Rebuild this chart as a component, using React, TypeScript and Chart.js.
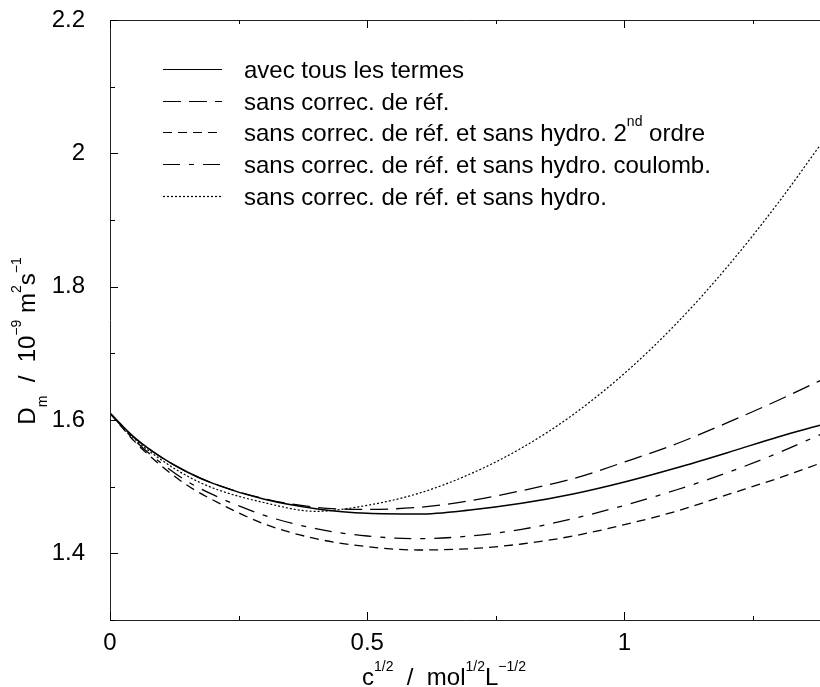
import { useEffect, useRef } from "react";
import { Chart, registerables } from "chart.js";

Chart.register(...registerables);

const FONT = '"Liberation Sans", Arial, Helvetica, sans-serif';

// x = c^{1/2}
const xValues = [0, 0.05, 0.1, 0.15, 0.2, 0.3, 0.4, 0.5, 0.6, 0.7, 0.8, 0.9, 1.0, 1.1, 1.2, 1.3, 1.38];
const avecTous = [1.61, 1.572, 1.544, 1.522, 1.505, 1.481, 1.467, 1.46, 1.459, 1.465, 1.475, 1.489, 1.507, 1.528, 1.551, 1.575, 1.592];
const sansRef = [1.61, 1.572, 1.544, 1.522, 1.505, 1.482, 1.469, 1.466, 1.469, 1.479, 1.494, 1.512, 1.537, 1.564, 1.596, 1.63, 1.659];
const sansRefSans2nd = [1.61, 1.566, 1.531, 1.502, 1.48, 1.444, 1.422, 1.41, 1.405, 1.407, 1.414, 1.426, 1.443, 1.463, 1.488, 1.513, 1.535];
const sansRefSansCoulomb = [1.61, 1.568, 1.535, 1.508, 1.488, 1.457, 1.437, 1.426, 1.422, 1.426, 1.436, 1.452, 1.472, 1.495, 1.521, 1.551, 1.578];
const sansRefSansHydro = [1.61, 1.57, 1.54, 1.516, 1.498, 1.476, 1.463, 1.472, 1.49, 1.519, 1.558, 1.608, 1.67, 1.744, 1.83, 1.927, 2.012];

const seriesLabels = [
  "avec tous les termes",
  "sans correc. de réf.",
  "sans correc. de réf. et sans hydro. 2^{nd} ordre",
  "sans correc. de réf. et sans hydro. coulomb.",
  "sans correc. de réf. et sans hydro.",
];

const xMajorTicks = [0, 0.5, 1];
const xTickLabels = ["0", "0.5", "1"];
const xMinorTicks = [0.25, 0.75, 1.25];
const yMajorTicks = [1.4, 1.6, 1.8, 2.0, 2.2];
const yTickLabels = ["1.4", "1.6", "1.8", "2", "2.2"];
const yMinorTicks = [1.3, 1.5, 1.7, 1.9, 2.1];

const xTitle = "c^{1/2}  /  mol^{1/2}L^{−1/2}";
const yTitle = "D_{m}  /  10^{−9} m^{2}s^{−1}";

type Seg = { t: string; kind: "normal" | "sup" | "sub" };

function parseRich(text: string): Seg[] {
  return text
    .split(/(\^\{[^}]*\}|_\{[^}]*\})/)
    .filter((p) => p.length > 0)
    .map((p) => {
      if (p.startsWith("^{")) return { t: p.slice(2, -1), kind: "sup" as const };
      if (p.startsWith("_{")) return { t: p.slice(2, -1), kind: "sub" as const };
      return { t: p, kind: "normal" as const };
    });
}

function drawRich(ctx: CanvasRenderingContext2D, text: string, x: number, y: number, size: number, align: "left" | "center") {
  const segs = parseRich(text);
  const small = Math.round(size * 0.58);
  const widths = segs.map((s) => {
    ctx.font = `${s.kind === "normal" ? size : small}px ${FONT}`;
    return ctx.measureText(s.t).width;
  });
  const total = widths.reduce((a, b) => a + b, 0);
  let cx = align === "center" ? x - total / 2 : x;
  ctx.textAlign = "left";
  ctx.textBaseline = "alphabetic";
  ctx.fillStyle = "#000";
  segs.forEach((s, i) => {
    ctx.font = `${s.kind === "normal" ? size : small}px ${FONT}`;
    const dy = s.kind === "sup" ? -size * 0.6 : s.kind === "sub" ? size * 0.5 : 0;
    ctx.fillText(s.t, cx, y + dy);
    cx += widths[i];
  });
}

const framePlugin = {
  id: "frameAndDecor",
  afterDraw(chart: any) {
    const ctx: CanvasRenderingContext2D = chart.ctx;
    const { left, right, top, bottom } = chart.chartArea;
    const xs = chart.scales.x;
    const ys = chart.scales.y;
    ctx.save();
    // frame
    ctx.strokeStyle = "#222";
    ctx.lineWidth = 1;
    ctx.beginPath();
    ctx.moveTo(right, Math.round(top) + 0.5);
    ctx.lineTo(Math.round(left) + 0.5, Math.round(top) + 0.5);
    ctx.lineTo(Math.round(left) + 0.5, Math.round(bottom) + 0.5);
    ctx.lineTo(right, Math.round(bottom) + 0.5);
    ctx.stroke();
    // inward ticks
    ctx.strokeStyle = "#000";
    const tickX = (v: number, len: number) => {
      const px = Math.round(xs.getPixelForValue(v)) + 0.5;
      ctx.beginPath();
      ctx.moveTo(px, bottom);
      ctx.lineTo(px, bottom - len);
      ctx.moveTo(px, top);
      ctx.lineTo(px, top + len);
      ctx.stroke();
    };
    const tickY = (v: number, len: number) => {
      const py = Math.round(ys.getPixelForValue(v)) + 0.5;
      ctx.beginPath();
      ctx.moveTo(left, py);
      ctx.lineTo(left + len, py);
      ctx.stroke();
    };
    xMajorTicks.forEach((v) => tickX(v, 8));
    xMinorTicks.forEach((v) => tickX(v, 4));
    yMajorTicks.forEach((v) => tickY(v, 8));
    yMinorTicks.forEach((v) => tickY(v, 5));

    // legend
    const rowY0 = 69;
    const rowStep = 31.7;
    chart.data.datasets.forEach((ds: any, i: number) => {
      const y = Math.round(rowY0 + i * rowStep) + 0.5;
      ctx.strokeStyle = ds.borderColor;
      ctx.lineWidth = 1.2;
      ctx.setLineDash(ds.borderDash || []);
      ctx.beginPath();
      ctx.moveTo(163, y);
      ctx.lineTo(222, y);
      ctx.stroke();
      ctx.setLineDash([]);
      drawRich(ctx, ds.label, 244, y + 8, 24, "left");
    });

    // x title
    drawRich(ctx, xTitle, left + 334, 685, 24, "center");
    // y title (rotated)
    ctx.translate(35, 341);
    ctx.rotate(-Math.PI / 2);
    drawRich(ctx, yTitle, 0, 0, 24, "center");
    ctx.restore();
  },
};

export default function App() {
  const canvasRef = useRef<HTMLCanvasElement | null>(null);

  useEffect(() => {
    if (!canvasRef.current) return;
    const seriesData = [avecTous, sansRef, sansRefSans2nd, sansRefSansCoulomb, sansRefSansHydro];
    const dashes: number[][] = [[], [18, 8], [9, 6], [17, 9, 5, 9], [2, 2]];
    const widths = [1.5, 1.3, 1.3, 1.3, 1.2];
    const chart = new Chart(canvasRef.current, {
      type: "line",
      data: {
        datasets: seriesData.map((arr, i) => ({
          label: seriesLabels[i],
          data: xValues.map((x, j) => ({ x, y: arr[j] })),
          borderColor: "#000",
          borderWidth: widths[i],
          borderDash: dashes[i],
          pointRadius: 0,
          fill: false,
          cubicInterpolationMode: "monotone" as const,
        })),
      },
      options: {
        animation: false,
        responsive: false,
        layout: { padding: { top: 20, right: 0, left: 0, bottom: 0 } },
        plugins: { legend: { display: false }, tooltip: { enabled: false } },
        scales: {
          x: {
            type: "linear",
            min: 0,
            max: 1.38,
            grid: { display: false },
            border: { display: false },
            afterBuildTicks: (scale: any) => {
              scale.ticks = xMajorTicks.map((v) => ({ value: v }));
            },
            afterFit: (scale: any) => {
              scale.height = 67;
              scale.paddingLeft = 0;
              scale.paddingRight = 0;
            },
            ticks: {
              autoSkip: false,
              maxRotation: 0,
              padding: 1,
              color: "#000",
              font: { family: FONT, size: 24 },
              callback: (value: any) => xTickLabels[xMajorTicks.indexOf(Number(value))] ?? "",
            },
          },
          y: {
            type: "linear",
            min: 1.3,
            max: 2.2,
            grid: { display: false },
            border: { display: false },
            afterBuildTicks: (scale: any) => {
              scale.ticks = yMajorTicks.map((v) => ({ value: v }));
            },
            afterFit: (scale: any) => {
              scale.width = 110;
              scale.paddingTop = 0;
              scale.paddingBottom = 0;
            },
            ticks: {
              autoSkip: false,
              padding: 17,
              color: "#000",
              font: { family: FONT, size: 24 },
              callback: (value: any) => {
                const idx = yMajorTicks.findIndex((v) => Math.abs(v - Number(value)) < 1e-6);
                return idx >= 0 ? yTickLabels[idx] : "";
              },
            },
          },
        },
      },
      plugins: [framePlugin],
    } as any);
    return () => chart.destroy();
  }, []);

  return (
    <div style={{ position: "absolute", left: 0, top: 0, width: 820, height: 687, background: "#fff" }}>
      <canvas ref={canvasRef} width={820} height={687} style={{ width: 820, height: 687, display: "block" }} />
    </div>
  );
}
